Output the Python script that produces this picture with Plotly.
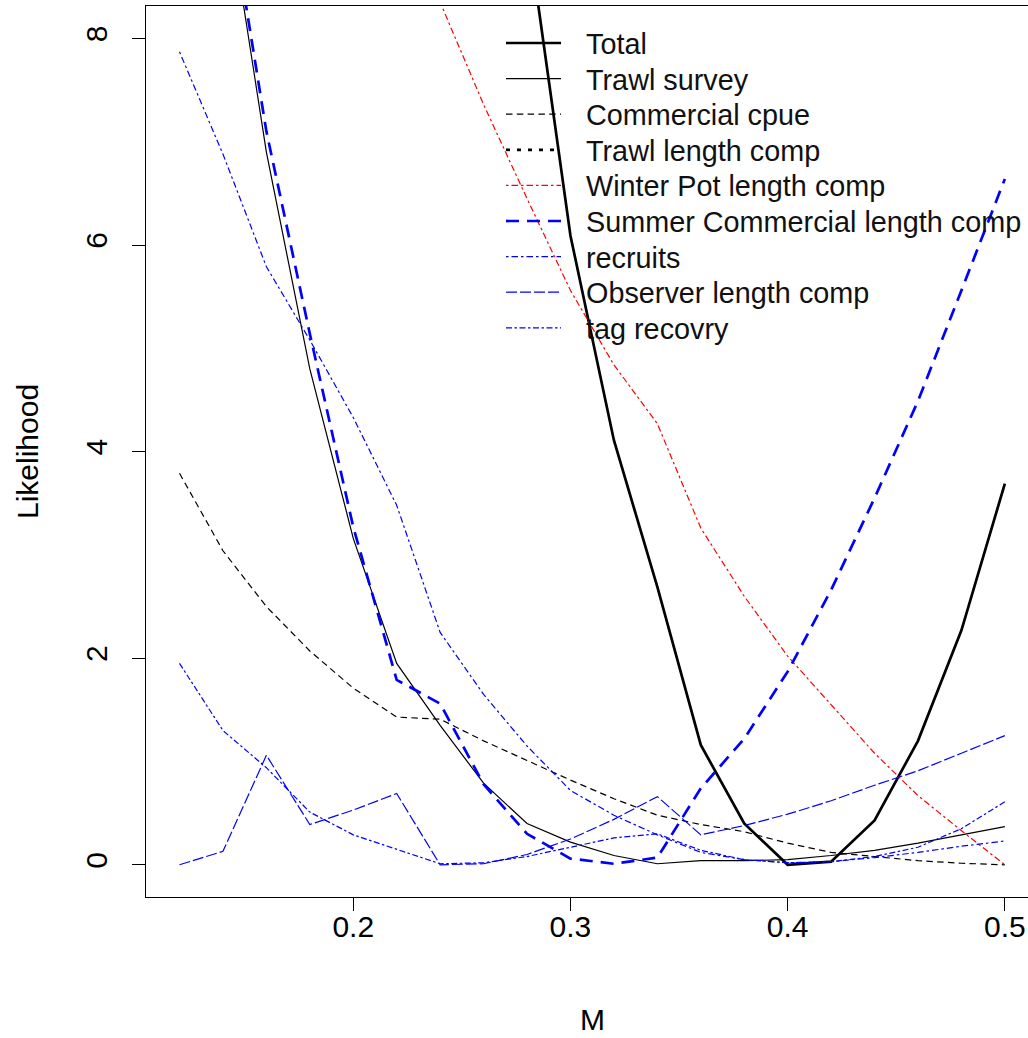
import plotly.graph_objects as go

# ---------------- data ----------------
M = [0.12, 0.14, 0.16, 0.18, 0.20, 0.22, 0.24, 0.26, 0.28, 0.30,
     0.32, 0.34, 0.36, 0.38, 0.40, 0.42, 0.44, 0.46, 0.48, 0.50]

total = [56.0, 47.0, 39.0, 32.0, 26.0, 21.0, 16.5, 12.5, 9.1, 6.09,
         4.11, 2.69, 1.16, 0.40, 0.00, 0.03, 0.43, 1.20, 2.27, 3.69]
trawl_survey = [12.5, 9.6, 6.9, 4.8, 3.16, 1.95, 1.35, 0.79, 0.40, 0.22,
                0.09, 0.01, 0.04, 0.04, 0.05, 0.09, 0.14, 0.21, 0.29, 0.37]
commercial_cpue = [3.79, 3.04, 2.50, 2.07, 1.71, 1.43, 1.41, 1.20, 1.01, 0.82,
                   0.64, 0.48, 0.39, 0.32, 0.21, 0.12, 0.08, 0.04, 0.015, 0.0]
trawl_length_comp = [None] * 20  # not visible inside the plotted range
winter_pot_length_comp = [16.0, 14.4, 13.0, 11.7, 10.5, 9.4, 8.35, 7.36, 6.45, 5.56,
                          4.84, 4.27, 3.26, 2.60, 2.02, 1.55, 1.08, 0.67, 0.33, 0.0]
summer_commercial_length_comp = [12.0, 9.7, 7.1, 5.14, 3.27, 1.79, 1.56, 0.78, 0.30, 0.06,
                                 0.01, 0.07, 0.74, 1.22, 1.87, 2.66, 3.55, 4.49, 5.56, 6.64]
recruits = [7.87, 6.88, 5.79, 5.08, 4.33, 3.48, 2.25, 1.65, 1.15, 0.72,
            0.48, 0.29, 0.12, 0.05, 0.02, 0.03, 0.07, 0.12, 0.18, 0.23]
observer_length_comp = [0.0, 0.13, 1.06, 0.39, 0.53, 0.69, 0.0, 0.01, 0.10, 0.25,
                        0.44, 0.66, 0.29, 0.38, 0.49, 0.62, 0.77, 0.91, 1.08, 1.25]
tag_recovry = [1.95, 1.30, 0.94, 0.51, 0.29, 0.15, 0.01, 0.02, 0.08, 0.17,
               0.26, 0.30, 0.14, 0.05, 0.02, 0.03, 0.08, 0.17, 0.35, 0.61]

legend_labels = ["Total", "Trawl survey", "Commercial cpue", "Trawl length comp",
                 "Winter Pot length comp", "Summer Commercial length comp",
                 "recruits", "Observer length comp", "tag recovry"]

x_tick_vals = [0.2, 0.3, 0.4, 0.5]
x_tick_text = ["0.2", "0.3", "0.4", "0.5"]
y_tick_vals = [0, 2, 4, 6, 8]
y_tick_text = ["0", "2", "4", "6", "8"]

x_title = "M"
y_title = "Likelihood"

# ---------------- styles ----------------
THIN = 1.2
THICK = 2.7
DASH = "6.5px,4.3px"
DOT2 = "4px,7px"
DASHDOT = "2.5px,3px,6.5px,3px"
LONGDASH = "11px,3px"
THICKDASH = "13px,8px"
TWODASH = "6px,2.5px,2.5px,2.5px"

series = [
    (legend_labels[0], total, "black", THICK, "solid"),
    (legend_labels[1], trawl_survey, "black", THIN, "solid"),
    (legend_labels[2], commercial_cpue, "black", THIN, DASH),
    (legend_labels[3], trawl_length_comp, "black", THICK, DOT2),
    (legend_labels[4], winter_pot_length_comp, "red", THIN, DASHDOT),
    (legend_labels[5], summer_commercial_length_comp, "blue", THICK, THICKDASH),
    (legend_labels[6], recruits, "blue", THIN, DASHDOT),
    (legend_labels[7], observer_length_comp, "blue", THIN, LONGDASH),
    (legend_labels[8], tag_recovry, "blue", THIN, TWODASH),
]

W, H = 1028, 1038
ML, MR, MT, MB = 146, 0, 6, 141
PW, PH = W - ML - MR, H - MT - MB
FONT = "Liberation Sans, Arial, sans-serif"

fig = go.Figure()
for name, vals, color, width, dash in series:
    fig.add_trace(go.Scatter(
        x=M, y=vals, mode="lines", name=name, showlegend=False,
        line=dict(color=color, width=width, dash=dash),
        connectgaps=False,
    ))

# R style legend (no box) drawn in paper coordinates
def px_to_paper_x(px):
    return (px - ML) / PW

def px_to_paper_y(py):
    return (H - MB - py) / PH

shapes = []
annotations = []
for i, (name, vals, color, width, dash) in enumerate(series):
    py = 43.0 + i * 35.6
    shapes.append(dict(type="line", xref="paper", yref="paper",
                       x0=px_to_paper_x(506), x1=px_to_paper_x(561),
                       y0=px_to_paper_y(py), y1=px_to_paper_y(py),
                       line=dict(color=color, width=width, dash=dash)))
    annotations.append(dict(text=name, xref="paper", yref="paper",
                            x=px_to_paper_x(584), y=px_to_paper_y(py + 1),
                            xanchor="left", yanchor="middle", showarrow=False,
                            font=dict(family=FONT, size=28.8, color="#111111")))

annotations.append(dict(text=x_title, xref="paper", yref="paper",
                        x=px_to_paper_x(592), y=px_to_paper_y(1020),
                        xanchor="center", yanchor="middle", showarrow=False,
                        font=dict(family=FONT, size=30, color="black")))
annotations.append(dict(text=y_title, xref="paper", yref="paper",
                        x=px_to_paper_x(28), y=px_to_paper_y(452),
                        xanchor="center", yanchor="middle", showarrow=False,
                        textangle=-90,
                        font=dict(family=FONT, size=30, color="black")))

# axis ranges: 2172 px per unit of M, 103.3 px per unit of likelihood
x0 = 0.12 - (179.5 - ML) / 2172.0
x1 = x0 + PW / 2172.0
y0 = -(896.7 - 864.5) / 103.3
y1 = y0 + PH / 103.3

fig.update_layout(
    width=W, height=H,
    margin=dict(l=ML, r=MR, t=MT, b=MB, pad=0),
    paper_bgcolor="white", plot_bgcolor="white",
    font=dict(family=FONT, color="black"),
    shapes=shapes, annotations=annotations,
    showlegend=False,
)
fig.update_xaxes(
    range=[x0, x1], tickvals=x_tick_vals, ticktext=x_tick_text,
    showgrid=False, zeroline=False,
    showline=True, linecolor="black", linewidth=1, mirror=True,
    ticks="outside", ticklen=13, tickwidth=1, tickcolor="black",
    ticklabelstandoff=-10,
    tickfont=dict(family=FONT, size=30, color="black"),
)
fig.update_yaxes(
    range=[y0, y1], tickvals=y_tick_vals, ticktext=y_tick_text,
    showgrid=False, zeroline=False,
    showline=True, linecolor="black", linewidth=1, mirror=False,
    ticks="outside", ticklen=13, tickwidth=1, tickcolor="black",
    tickangle=-90, ticklabelstandoff=13,
    tickfont=dict(family=FONT, size=30, color="black"),
)

fig.write_html("out.html")
